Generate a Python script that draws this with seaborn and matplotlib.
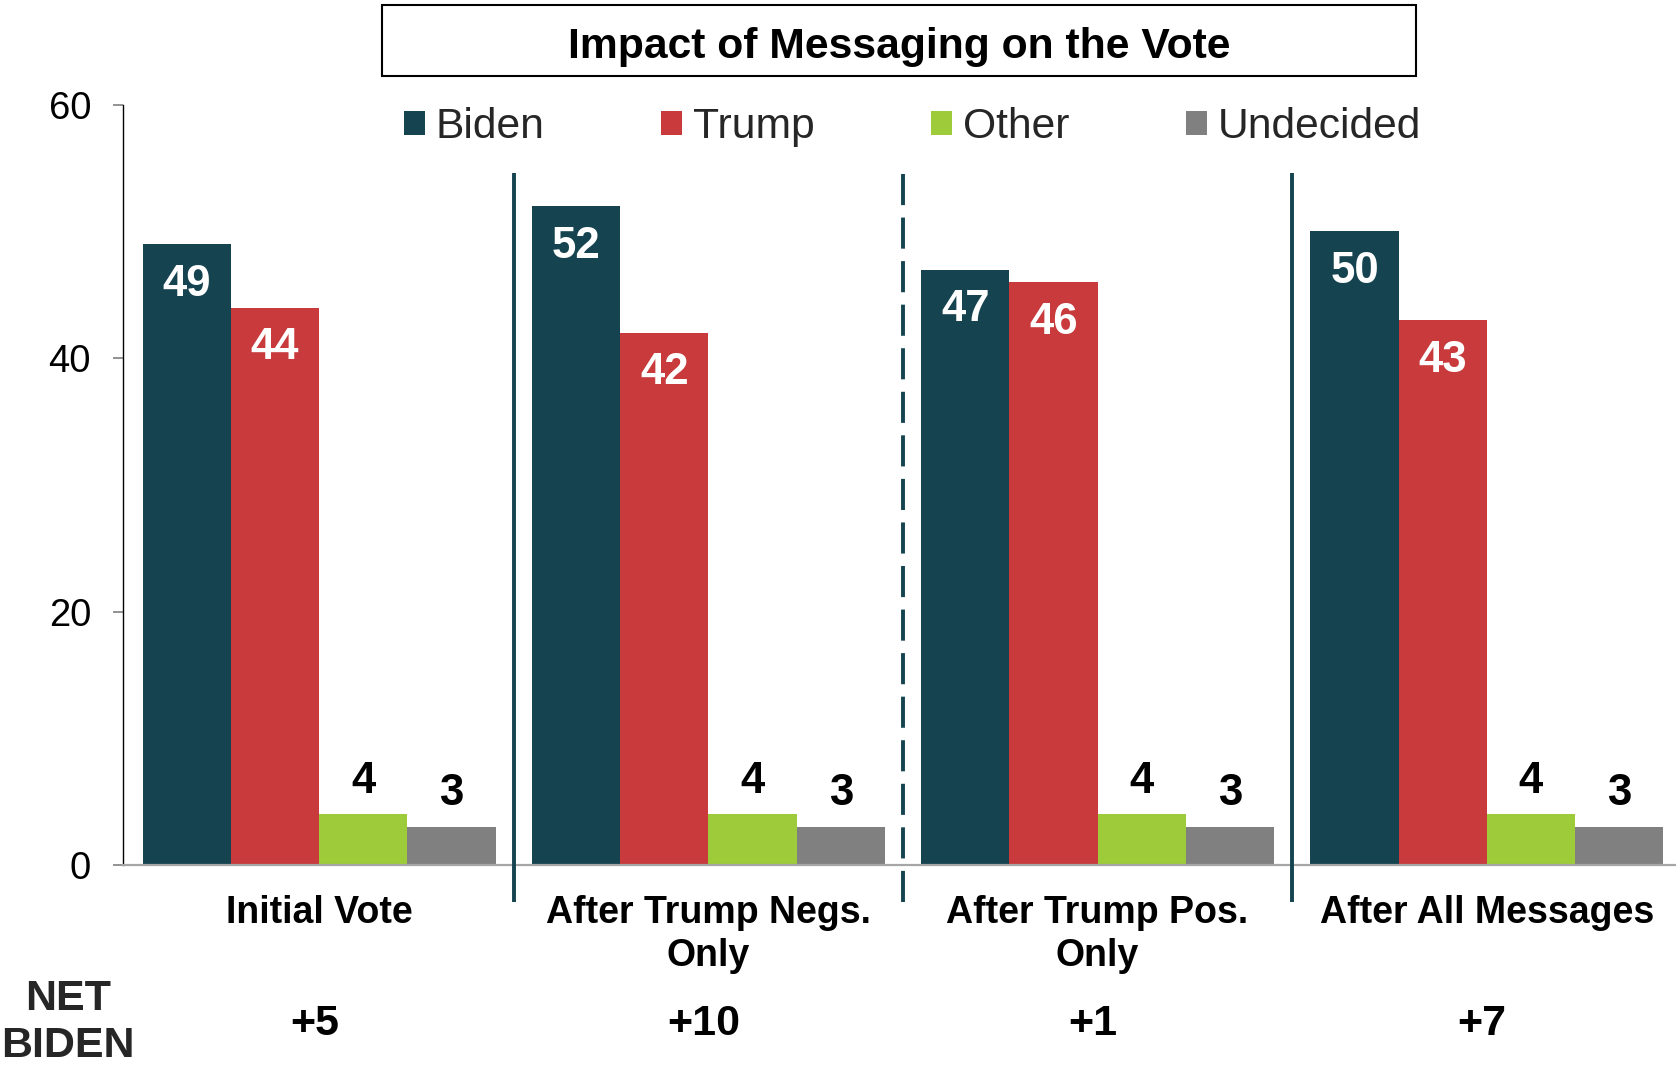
import numpy as np
import pandas as pd
import matplotlib
matplotlib.use("Agg")
import matplotlib.pyplot as plt
import matplotlib.transforms as mtransforms
from matplotlib.patches import Rectangle
import seaborn as sns

# ---------------- data ----------------
stages = ["Initial Vote", "After Trump Negs.\nOnly", "After Trump Pos.\nOnly", "After All Messages"]
candidates = ["Biden", "Trump", "Other", "Undecided"]
biden = [49, 52, 47, 50]
trump = [44, 42, 46, 43]
other = [4, 4, 4, 4]
undecided = [3, 3, 3, 3]
net_biden = ["+5", "+10", "+1", "+7"]
y_ticks = [0, 20, 40, 60]
title = "Impact of Messaging on the Vote"
colors = ["#15434F", "#C83A3B", "#9DCB3A", "#808080"]

series = [biden, trump, other, undecided]
df = pd.DataFrame({
    "stage": [s for _ in candidates for s in stages],
    "candidate": [c for c in candidates for _ in stages],
    "pct": [v for vals in series for v in vals],
})

# ---------------- style ----------------
sns.set_theme(style="white")
plt.rcParams["font.family"] = ["Liberation Sans", "DejaVu Sans"]

fig = plt.figure(figsize=(16.76, 10.65), dpi=100)
ax = fig.add_axes([0.0734, 0.1878, 0.9266, 0.7138])

sns.barplot(data=df, x="stage", y="pct", hue="candidate", order=stages,
            hue_order=candidates, palette=dict(zip(candidates, colors)),
            width=0.907, saturation=1, linewidth=0, errorbar=None, ax=ax)

ax.set_xlim(-0.504, 3.486)
ax.set_ylim(0, 60)
ax.set_yticks(y_ticks)
ax.set_xlabel("")
ax.set_ylabel("")
ax.tick_params(axis="y", left=True, length=7.5, width=1.2, color="#808080",
               pad=15.5, labelsize=27.5, labelcolor="black", direction="out")
ax.tick_params(axis="x", bottom=False, length=0, pad=21.5)
for lab in ax.get_xticklabels():
    lab.set_fontsize(27)
    lab.set_fontweight("bold")
    lab.set_linespacing(1.27)
    lab.set_color("black")

for s in ["top", "right"]:
    ax.spines[s].set_visible(False)
ax.spines["left"].set_color("black")
ax.spines["left"].set_linewidth(1.0)
ax.spines["bottom"].set_color("#A6A6A6")
ax.spines["bottom"].set_linewidth(1.6)

# value labels
for i, cont in enumerate(ax.containers):
    for bar, v in zip(cont, series[i]):
        xc = bar.get_x() + bar.get_width() / 2
        top = bar.get_height()
        if i < 2:
            ax.annotate(str(v), xy=(xc, top), xytext=(0, -37), textcoords="offset points",
                        ha="center", va="baseline", fontsize=31.5, fontweight="bold", color="white")
        else:
            ax.annotate(str(v), xy=(xc, top), xytext=(0, 15.5), textcoords="offset points",
                        ha="center", va="baseline", fontsize=31.5, fontweight="bold", color="black")

# divider lines between groups
div_color = "#15434F"
for xpos, ls in zip([0.5, 1.5, 2.5], ["-", (0, (8, 3.2)), "-"]):
    ax.plot([xpos, xpos], [-2.92, 54.6], color=div_color, lw=2.8, ls=ls,
            clip_on=False, zorder=3, solid_capstyle="butt", dash_capstyle="butt")

# legend
sns.move_legend(ax, "center left", bbox_to_anchor=(0.2411, 0.8808),
                bbox_transform=fig.transFigure, ncol=4, frameon=False, title=None,
                fontsize=30.7, handlelength=0.49, handleheight=0.49, handletextpad=0.25,
                columnspacing=2.74, borderpad=0, borderaxespad=0)

# title box
fig.add_artist(Rectangle((0.228, 0.9286), 0.617, 0.0667, transform=fig.transFigure,
                         fill=False, edgecolor="black", linewidth=1.5))
fig.text(0.5365, 0.9455, title, ha="center", va="baseline", fontsize=30.7,
         fontweight="bold", color="black")

# NET BIDEN row
fig.text(0.0405, 0.0516, "NET", ha="center", va="baseline", fontsize=31, fontweight="bold")
fig.text(0.0405, 0.0075, "BIDEN", ha="center", va="baseline", fontsize=31, fontweight="bold")
trans = mtransforms.blended_transform_factory(ax.transData, fig.transFigure)
for k, txt in enumerate(net_biden):
    ax.text(k - 0.012, 0.0282, txt, transform=trans, ha="center", va="baseline",
            fontsize=31, fontweight="bold", color="black", clip_on=False)

fig.savefig("out.png", dpi=100, facecolor="white")
